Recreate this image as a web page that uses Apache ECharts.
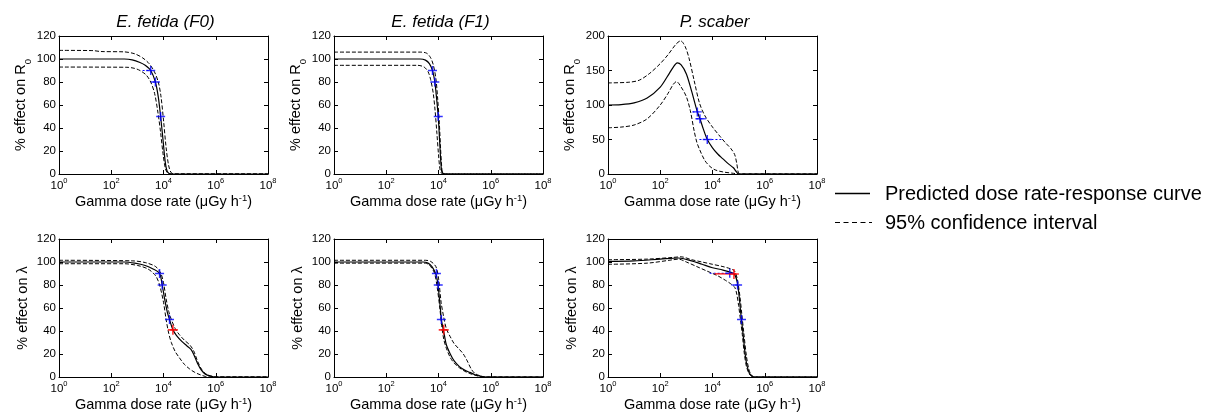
<!DOCTYPE html>
<html><head><meta charset="utf-8">
<script src="https://cdn.jsdelivr.net/npm/echarts@6/dist/echarts.min.js"></script>
<style>html,body{margin:0;padding:0;background:#fff}#c{width:1208px;height:418px}</style>
</head><body><div id="c"></div>
<script>
// ---- DATA (x = log10 of gamma dose rate in µGy/h, y = % effect) ----
const xTickExponents = [0, 2, 4, 6, 8];
const panelTitles = ['E. fetida (F0)', 'E. fetida (F1)', 'P. scaber'];
const yNameR0 = '% effect on R{sub|0}';
const yNameLambda = '% effect on λ';
const xName = 'Gamma dose rate (μGy h{sup|-1})';
const legendLabels = ['Predicted dose rate-response curve', '95% confidence interval'];

// E. fetida (F0) – R0
const f0R0_pred  = [[0,100],[2.5,100],[2.8,99.3],[3.1,97],[3.3,94.5],[3.51,90],[3.69,80],[3.8,67],[3.89,50],[3.98,30],[4.07,10],[4.15,2],[4.3,0],[8,0]];
const f0R0_upper = [[0,107.5],[1.3,107.3],[1.6,106.5],[2.5,106.2],[2.9,104.5],[3.2,101],[3.45,96],[3.65,89],[3.8,80],[3.9,68],[4.0,47],[4.1,23],[4.2,7],[4.3,1],[4.45,0],[8,0]];
const f0R0_lower = [[0,93],[2.6,92.8],[2.9,91.8],[3.1,90],[3.34,86],[3.51,80],[3.66,70],[3.79,53],[3.89,36],[3.98,18],[4.07,5],[4.15,1],[4.25,0],[8,0]];
const f0R0_blue  = [[3.51,90],[3.69,80],[3.89,50]];
const f0R0_blueErr = [[3.2,3.55,90],[3.6,3.75,80]];
const f0R0_red = [];
const f0R0_redErr = [];

// E. fetida (F1) – R0
const f1R0_pred  = [[0,100],[3.3,100],[3.5,99],[3.65,96],[3.77,90],[3.86,80],[3.93,65],[3.99,50],[4.04,30],[4.09,10],[4.13,2],[4.25,0],[8,0]];
const f1R0_upper = [[0,106],[3.3,106],[3.55,105],[3.7,101],[3.8,95],[3.9,83],[3.97,65],[4.03,45],[4.08,22],[4.12,7],[4.16,1],[4.3,0],[8,0]];
const f1R0_lower = [[0,94.5],[3.2,94.5],[3.45,93],[3.6,89],[3.7,82],[3.8,70],[3.87,55],[3.94,35],[4.0,17],[4.05,5],[4.1,1],[4.2,0],[8,0]];
const f1R0_blue  = [[3.77,90],[3.86,80],[3.99,50]];
const f1R0_blueErr = [];
const f1R0_red = [];
const f1R0_redErr = [];

// P. scaber – R0
const psR0_pred  = [[0,100],[0.5,100.5],[1.0,103],[1.5,110],[2.0,126],[2.3,143],[2.5,155],[2.65,161],[2.8,158],[3.0,145],[3.2,120],[3.42,90],[3.52,80],[3.65,65],[3.8,50],[4.0,38],[4.2,29],[4.4,22],[4.6,15],[4.8,9],[4.9,4],[5.0,0],[8,0]];
const psR0_upper = [[0,132],[0.8,133],[1.2,136],[1.6,146],[2.0,160],[2.3,173],[2.6,188],[2.78,193],[2.95,185],[3.1,168],[3.3,135],[3.5,103],[3.7,85],[4.0,68],[4.3,54],[4.5,45],[4.7,37],[4.85,28],[4.93,15],[5.0,1],[5.1,0],[8,0]];
const psR0_lower = [[0,67],[0.5,68],[1.0,71],[1.5,80],[2.0,100],[2.3,117],[2.5,130],[2.62,134],[2.8,126],[3.0,112],[3.15,92],[3.3,62],[3.4,46],[3.5,36],[3.7,20],[3.9,11],[4.1,6],[4.4,3],[4.8,1],[5.0,0],[8,0]];
const psR0_blue  = [[3.42,90],[3.52,80],[3.8,50]];
const psR0_blueErr = [[3.23,3.48,90],[3.38,3.76,80],[3.5,4.34,50]];
const psR0_red = [];
const psR0_redErr = [];

// E. fetida (F0) – lambda
const f0L_pred  = [[0,100],[2.5,100],[2.9,99],[3.3,97],[3.6,94],[3.85,90],[3.95,80],[4.05,67],[4.15,56],[4.23,50],[4.36,41],[4.5,36],[4.7,31],[4.9,27],[5.05,24],[5.15,20],[5.3,12],[5.45,6],[5.6,2.5],[5.8,0.8],[6.0,0],[8,0]];
const f0L_upper = [[0,101.5],[2.8,101],[3.3,99.5],[3.7,96],[3.9,90],[4.0,82],[4.1,68],[4.2,57],[4.3,50],[4.45,42],[4.6,37],[4.8,32],[5.0,28],[5.15,23],[5.3,14],[5.45,7],[5.6,3],[5.8,1],[6.0,0],[8,0]];
const f0L_lower = [[0,98.5],[2.5,98.5],[3.0,97],[3.4,94],[3.7,88],[3.85,80],[4.0,65],[4.1,50],[4.2,38],[4.3,30],[4.45,22],[4.6,17],[4.8,11],[5.0,7],[5.2,4],[5.4,2],[5.6,0.5],[5.8,0],[8,0]];
const f0L_blue  = [[3.85,90],[3.95,80],[4.23,50]];
const f0L_blueErr = [];
const f0L_red = [[4.36,41]];
const f0L_redErr = [[4.26,4.46,41]];

// E. fetida (F1) – lambda
const f1L_pred  = [[0,100],[3.4,100],[3.6,99],[3.75,96],[3.85,92],[3.92,88],[3.98,80],[4.05,65],[4.11,50],[4.15,45],[4.22,37],[4.3,28],[4.45,20],[4.6,14],[4.8,9],[5.0,6],[5.2,4],[5.4,2],[5.6,0.8],[5.8,0],[8,0]];
const f1L_upper = [[0,101.5],[3.5,101.5],[3.7,100.5],[3.9,96],[4.0,86],[4.1,65],[4.2,52],[4.3,42],[4.45,35],[4.6,29],[4.8,24],[4.95,20],[5.1,14],[5.25,7],[5.4,3],[5.6,1],[5.8,0],[8,0]];
const f1L_lower = [[0,99],[3.5,99],[3.7,96],[3.85,90],[3.95,78],[4.05,60],[4.12,45],[4.2,33],[4.3,25],[4.45,17],[4.6,12],[4.8,8],[5.0,5],[5.2,3],[5.4,1.5],[5.6,0.5],[5.8,0],[8,0]];
const f1L_blue  = [[3.92,90],[3.99,80],[4.11,50]];
const f1L_blueErr = [];
const f1L_red = [[4.2,41]];
const f1L_redErr = [[4.12,4.3,41]];

// P. scaber – lambda
const psL_pred  = [[0,100.5],[1.0,101],[2.0,102.5],[2.7,103.5],[3.2,101],[3.6,98],[4.0,95],[4.4,93],[4.7,91],[4.85,89],[4.95,82],[5.02,70],[5.08,56],[5.11,50],[5.18,35],[5.25,20],[5.32,10],[5.4,4],[5.5,1],[5.6,0],[8,0]];
const psL_upper = [[0,102],[1.5,102.5],[2.5,104],[2.8,104.5],[3.2,102],[3.6,100],[4.0,98],[4.4,96],[4.7,94],[4.85,92],[4.95,85],[5.05,70],[5.12,55],[5.2,38],[5.3,18],[5.4,6],[5.5,1.5],[5.6,0],[8,0]];
const psL_lower = [[0,98],[1.5,99],[2.5,102],[2.7,102.5],[3.0,100],[3.4,96],[3.8,92],[4.2,88],[4.5,84],[4.7,81],[4.85,78],[4.93,72],[5.0,62],[5.07,50],[5.14,37],[5.22,20],[5.3,9],[5.4,3],[5.5,0.5],[5.6,0],[8,0]];
const psL_blue  = [[4.66,90.2],[4.96,80],[5.11,50]];
const psL_blueErr = [[3.89,4.7,90.2],[4.72,5.04,80]];
const psL_red = [[4.82,89.6]];
const psL_redErr = [[4.08,4.91,89.6]];

// ---- BUILD ----
const panels = [
  {title: panelTitles[0], yName: yNameR0, ymax: 120, step: 20, pred: f0R0_pred, up: f0R0_upper, lo: f0R0_lower, blue: f0R0_blue, blueErr: f0R0_blueErr, red: f0R0_red, redErr: f0R0_redErr},
  {title: panelTitles[1], yName: yNameR0, ymax: 120, step: 20, pred: f1R0_pred, up: f1R0_upper, lo: f1R0_lower, blue: f1R0_blue, blueErr: f1R0_blueErr, red: f1R0_red, redErr: f1R0_redErr},
  {title: panelTitles[2], yName: yNameR0, ymax: 200, step: 50, pred: psR0_pred, up: psR0_upper, lo: psR0_lower, blue: psR0_blue, blueErr: psR0_blueErr, red: psR0_red, redErr: psR0_redErr},
  {title: null, yName: yNameLambda, ymax: 120, step: 20, pred: f0L_pred, up: f0L_upper, lo: f0L_lower, blue: f0L_blue, blueErr: f0L_blueErr, red: f0L_red, redErr: f0L_redErr},
  {title: null, yName: yNameLambda, ymax: 120, step: 20, pred: f1L_pred, up: f1L_upper, lo: f1L_lower, blue: f1L_blue, blueErr: f1L_blueErr, red: f1L_red, redErr: f1L_redErr},
  {title: null, yName: yNameLambda, ymax: 120, step: 20, pred: psL_pred, up: psL_upper, lo: psL_lower, blue: psL_blue, blueErr: psL_blueErr, red: psL_red, redErr: psL_redErr}
];

const FONT = 'Liberation Sans, Arial, sans-serif';
const colLeft = [59, 334, 608];
const rowTop = [36, 239];
const GW = 209, GH = 138;
const BLUE = '#0000ff', RED = '#ff0000';
const plusPath = 'path://M4.2,0H5.8V4.2H10V5.8H5.8V10H4.2V5.8H0V4.2H4.2Z';

const grids = [], xAxes = [], yAxes = [], series = [], graphics = [];
const lineBase = {color: '#000', width: 1};

panels.forEach((p, i) => {
  const col = i % 3, row = Math.floor(i / 3);
  grids.push({left: colLeft[col], top: rowTop[row], width: GW, height: GH, containLabel: false});
  const xi = xAxes.length, yi = yAxes.length;
  xAxes.push({
    gridIndex: i, type: 'value', min: xTickExponents[0], max: xTickExponents[xTickExponents.length - 1], interval: 2,
    position: 'bottom',
    axisLine: {show: true, onZero: false, lineStyle: lineBase},
    axisTick: {show: true, inside: true, length: 4, lineStyle: lineBase},
    splitLine: {show: false},
    axisLabel: {
      margin: 3, color: '#000', fontFamily: FONT,
      formatter: v => '{b|10}{s|' + v + '}',
      rich: {b: {fontSize: 11.5, fontFamily: FONT, color: '#000', lineHeight: 15, verticalAlign: 'bottom'},
             s: {fontSize: 7.5, fontFamily: FONT, color: '#000', lineHeight: 9, verticalAlign: 'top'}}
    },
    name: xName, nameLocation: 'middle', nameGap: 14,
    nameTextStyle: {fontSize: 14.5, lineHeight: 18, fontFamily: FONT, color: '#000',
      rich: {sup: {fontSize: 9.5, fontFamily: FONT, color: '#000', verticalAlign: 'top', lineHeight: 9}}}
  });
  xAxes.push({
    gridIndex: i, type: 'value', min: 0, max: 8, interval: 2, position: 'top',
    axisLine: {show: true, onZero: false, lineStyle: lineBase},
    axisTick: {show: true, inside: true, length: 4, lineStyle: lineBase},
    axisLabel: {show: false}, splitLine: {show: false}
  });
  yAxes.push({
    gridIndex: i, type: 'value', min: 0, max: p.ymax, interval: p.step, position: 'left',
    axisLine: {show: true, onZero: false, lineStyle: lineBase},
    axisTick: {show: true, inside: true, length: 4, lineStyle: lineBase},
    splitLine: {show: false},
    axisLabel: {margin: 3, fontSize: 11.5, fontFamily: FONT, color: '#000'},
    name: p.yName, nameLocation: 'middle', nameRotate: 90, nameGap: 29,
    nameTextStyle: {fontSize: 14.5, fontFamily: FONT, color: '#000',
      rich: {sub: {fontSize: 9.5, fontFamily: FONT, color: '#000', verticalAlign: 'bottom', lineHeight: 10, padding: [0, 0, -4, 0]}}}
  });
  yAxes.push({
    gridIndex: i, type: 'value', min: 0, max: p.ymax, interval: p.step, position: 'right',
    axisLine: {show: true, onZero: false, lineStyle: lineBase},
    axisTick: {show: true, inside: true, length: 4, lineStyle: lineBase},
    axisLabel: {show: false}, splitLine: {show: false}
  });

  const common = {xAxisIndex: xi, yAxisIndex: yi, symbol: 'none', smooth: 0.3, silent: true, animation: false, z: 2};
  series.push(Object.assign({type: 'line', data: p.up, lineStyle: {color: '#000', width: 1, type: [4, 2]}}, common));
  series.push(Object.assign({type: 'line', data: p.lo, lineStyle: {color: '#000', width: 1, type: [4, 2]}}, common));
  series.push(Object.assign({type: 'line', data: p.pred, lineStyle: {color: '#000', width: 1.2}}, common));

  p.blueErr.forEach(e => series.push({type: 'line', xAxisIndex: xi, yAxisIndex: yi, symbol: 'none', silent: true, animation: false, z: 4,
    data: [[e[0], e[2]], [e[1], e[2]]], lineStyle: {color: BLUE, width: 1, type: [2, 2]}}));
  p.redErr.forEach(e => series.push({type: 'line', xAxisIndex: xi, yAxisIndex: yi, symbol: 'none', silent: true, animation: false, z: 4,
    data: [[e[0], e[2]], [e[1], e[2]]], lineStyle: {color: RED, width: 1.3}}));
  if (p.blue.length) series.push({type: 'scatter', xAxisIndex: xi, yAxisIndex: yi, data: p.blue, symbol: plusPath, symbolSize: 9,
    itemStyle: {color: BLUE}, silent: true, animation: false, z: 6});
  if (p.red.length) series.push({type: 'scatter', xAxisIndex: xi, yAxisIndex: yi, data: p.red, symbol: plusPath, symbolSize: 10,
    itemStyle: {color: RED}, silent: true, animation: false, z: 6});

  if (p.title) graphics.push({type: 'text', x: colLeft[col] + GW / 2 + 2, y: 22,
    style: {text: p.title, font: 'italic 17px ' + FONT, fill: '#000', align: 'center', verticalAlign: 'middle'}});
});

// Legend
graphics.push({type: 'line', shape: {x1: 835, y1: 193.5, x2: 870, y2: 193.5}, style: {stroke: '#000', lineWidth: 1.5}});
graphics.push({type: 'line', shape: {x1: 835, y1: 222.5, x2: 872, y2: 222.5}, style: {stroke: '#000', lineWidth: 1.2, lineDash: [5, 3.5]}});
graphics.push({type: 'text', x: 885, y: 194, style: {text: legendLabels[0], font: '20px ' + FONT, fill: '#000', verticalAlign: 'middle'}});
graphics.push({type: 'text', x: 885, y: 223, style: {text: legendLabels[1], font: '20px ' + FONT, fill: '#000', verticalAlign: 'middle'}});

const chart = echarts.init(document.getElementById('c'), null, {renderer: 'canvas'});
chart.setOption({
  animation: false,
  backgroundColor: '#fff',
  grid: grids, xAxis: xAxes, yAxis: yAxes, series: series, graphic: graphics
});
</script></body></html>
